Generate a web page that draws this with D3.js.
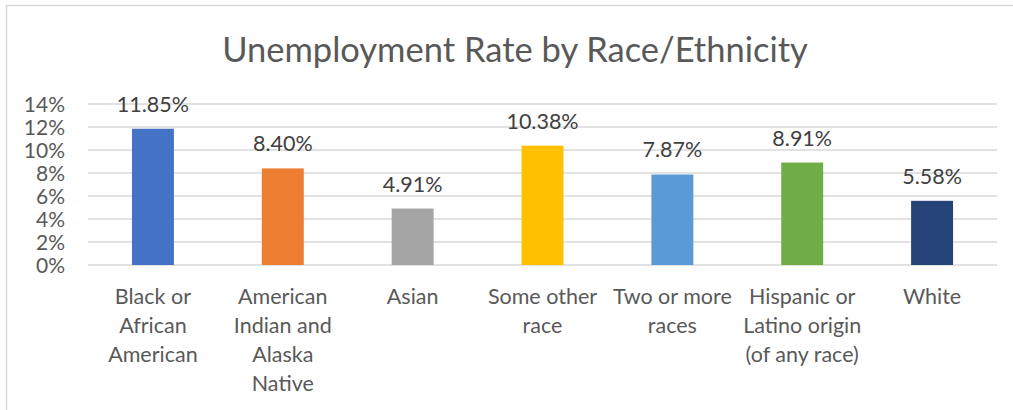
<!DOCTYPE html>
<html><head><meta charset="utf-8">
<script src="https://cdn.jsdelivr.net/npm/d3@7"></script>
<style>
html,body{margin:0;padding:0;background:#fff;}
svg{display:block;font-family:Lato, "Open Sans", sans-serif;}
</style></head>
<body>
<svg id="chart" width="1013" height="410"></svg>
<script>
const categories = ["Black or\nAfrican\nAmerican","American\nIndian and\nAlaska\nNative","Asian","Some other\nrace","Two or more\nraces","Hispanic or\nLatino origin\n(of any race)","White"];
const values = [11.85, 8.40, 4.91, 10.38, 7.87, 8.91, 5.58];
const colors = ["#4472C4","#ED7D31","#A5A5A5","#FFC000","#5B9BD5","#70AD47","#264478"];
const yTicks = [0,2,4,6,8,10,12,14];
const title = "Unemployment Rate by Race/Ethnicity";

const svg = d3.select("#chart");
const grid = "#d9d9d9", txt = "#595959";

svg.append("rect").attr("x",6.5).attr("y",5.5).attr("width",1020).attr("height",420)
  .attr("fill","none").attr("stroke",grid).attr("stroke-width",1.5);

const x = d3.scaleBand().domain(categories).range([88,997]).paddingInner(0.677).paddingOuter(0.3385);
const y = d3.scaleLinear().domain([0,14]).range([265,104]);

svg.append("text").attr("x",515).attr("y",62).attr("text-anchor","middle")
  .attr("font-size",34.5).attr("fill",txt).text(title);

const yAxis = d3.axisLeft(y).tickValues(yTicks).tickFormat(d=>d+"%").tickSize(0).tickPadding(0);
const gy = svg.append("g").attr("transform","translate(65,0)").call(yAxis);
gy.select(".domain").remove();
gy.selectAll("text").attr("font-size",21).attr("fill",txt).attr("font-family","Lato, sans-serif").attr("dy","0.35em");

svg.append("g").selectAll("line").data(yTicks).join("line")
  .attr("x1",88).attr("x2",997).attr("y1",d=>y(d)).attr("y2",d=>y(d))
  .attr("stroke",grid).attr("stroke-width",1.5);

svg.append("g").selectAll("rect").data(values).join("rect")
  .attr("x",(d,i)=>x(categories[i])).attr("width",x.bandwidth())
  .attr("y",d=>y(d)).attr("height",d=>y(0)-y(d)).attr("fill",(d,i)=>colors[i]);

svg.append("g").selectAll("text").data(values).join("text")
  .attr("x",(d,i)=>x(categories[i])+x.bandwidth()/2).attr("y",d=>y(d)-17)
  .attr("text-anchor","middle").attr("font-size",21.5).attr("fill","#404040")
  .text(d=>d.toFixed(2)+"%");

const gx = svg.append("g");
categories.forEach(c=>{
  const t = gx.append("text").attr("x",x(c)+x.bandwidth()/2).attr("y",304)
    .attr("text-anchor","middle").attr("font-size",21.5).attr("fill",txt);
  c.split("\n").forEach((line,j)=>{
    t.append("tspan").attr("x",x(c)+x.bandwidth()/2).attr("y",304+j*29).text(line);
  });
});
</script>
</body></html>
